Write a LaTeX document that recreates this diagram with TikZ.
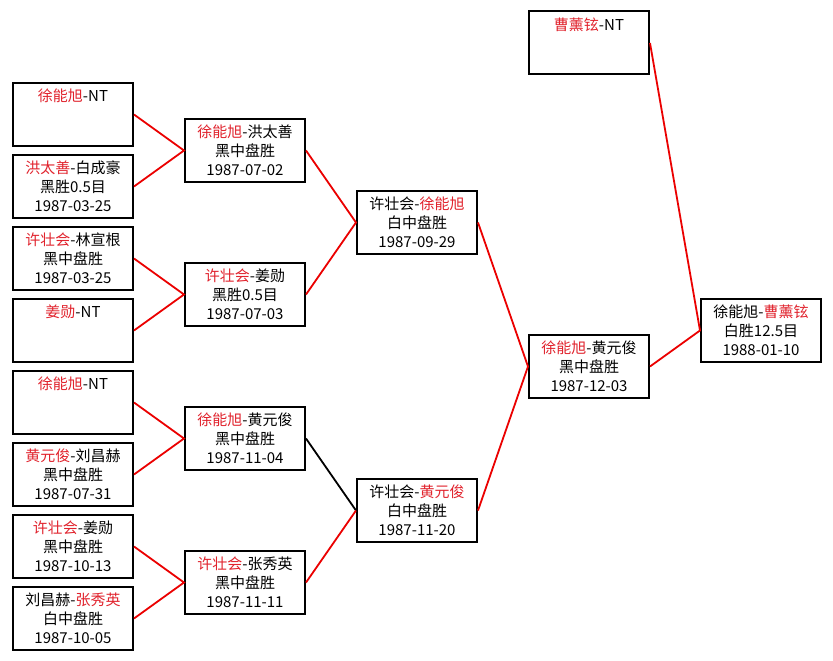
\documentclass[tikz,border=0pt]{standalone}
\usepackage{fontspec}
\setmainfont{Noto Sans CJK SC}
\usepackage{xcolor}
\usepackage{tikz}
\usetikzlibrary{positioning}
\definecolor{winred}{RGB}{225,35,45}
\definecolor{linkred}{RGB}{235,0,0}
\newcommand{\win}[1]{\textcolor{winred}{#1}}

\begin{document}
\begin{tikzpicture}[x=1pt, y=-1pt,
    box/.style={rectangle, draw=black, line width=2pt, minimum width=120pt, minimum height=63pt, align=center, inner sep=2pt, font=\fontsize{15}{19}\selectfont},
    link/.style={draw=linkred, line width=1.8pt},
    lost/.style={draw=black, line width=1.8pt}
]
    \fill[white] (0,0) rectangle (833,661);
    \useasboundingbox (0,0) rectangle (833,661);

    % first round
    \node[box] (ra) at (73,114.5) {\win{徐能旭}-NT\\ ~\\ ~};
    \node[box] (rb) at (73,186.5) {\win{洪太善}-白成豪\\ 黑胜0.5目\\ 1987-03-25};
    \node[box] (rc) at (73,258.5) {\win{许壮会}-林宣根\\ 黑中盘胜\\ 1987-03-25};
    \node[box] (rd) at (73,330.5) {\win{姜勋}-NT\\ ~\\ ~};
    \node[box] (re) at (73,402.5) {\win{徐能旭}-NT\\ ~\\ ~};
    \node[box] (rf) at (73,474.5) {\win{黄元俊}-刘昌赫\\ 黑中盘胜\\ 1987-07-31};
    \node[box] (rg) at (73,546.5) {\win{许壮会}-姜勋\\ 黑中盘胜\\ 1987-10-13};
    \node[box] (rh) at (73,618.5) {刘昌赫-\win{张秀英}\\ 白中盘胜\\ 1987-10-05};

    % second round
    \node[box] (qa) at (245,150.5) {\win{徐能旭}-洪太善\\ 黑中盘胜\\ 1987-07-02};
    \node[box] (qb) at (245,294.5) {\win{许壮会}-姜勋\\ 黑胜0.5目\\ 1987-07-03};
    \node[box] (qc) at (245,438.5) {\win{徐能旭}-黄元俊\\ 黑中盘胜\\ 1987-11-04};
    \node[box] (qd) at (245,582.5) {\win{许壮会}-张秀英\\ 黑中盘胜\\ 1987-11-11};

    % semifinals
    \node[box] (sa) at (417,222.5) {许壮会-\win{徐能旭}\\ 白中盘胜\\ 1987-09-29};
    \node[box] (sb) at (417,510.5) {许壮会-\win{黄元俊}\\ 白中盘胜\\ 1987-11-20};

    % challenger final, holder, title match
    \node[box] (chal) at (589,366.5) {\win{徐能旭}-黄元俊\\ 黑中盘胜\\ 1987-12-03};
    \node[box] (hold) at (589,43) {\win{曹薰铉}-NT\\ ~\\ ~};
    \node[box] (title) at (761,330.5) {徐能旭-\win{曹薰铉}\\ 白胜12.5目\\ 1988-01-10};

    \draw[link] (ra.east) -- (qa.west) -- (rb.east);
    \draw[link] (rc.east) -- (qb.west) -- (rd.east);
    \draw[link] (re.east) -- (qc.west) -- (rf.east);
    \draw[link] (rg.east) -- (qd.west) -- (rh.east);
    \draw[link] (qa.east) -- (sa.west) -- (qb.east);
    \draw[lost] (qc.east) -- (sb.west);
    \draw[link] (sb.west) -- (qd.east);
    \draw[link] (sa.east) -- (chal.west) -- (sb.east);
    \draw[link] (hold.east) -- (title.west) -- (chal.east);
\end{tikzpicture}
\end{document}
